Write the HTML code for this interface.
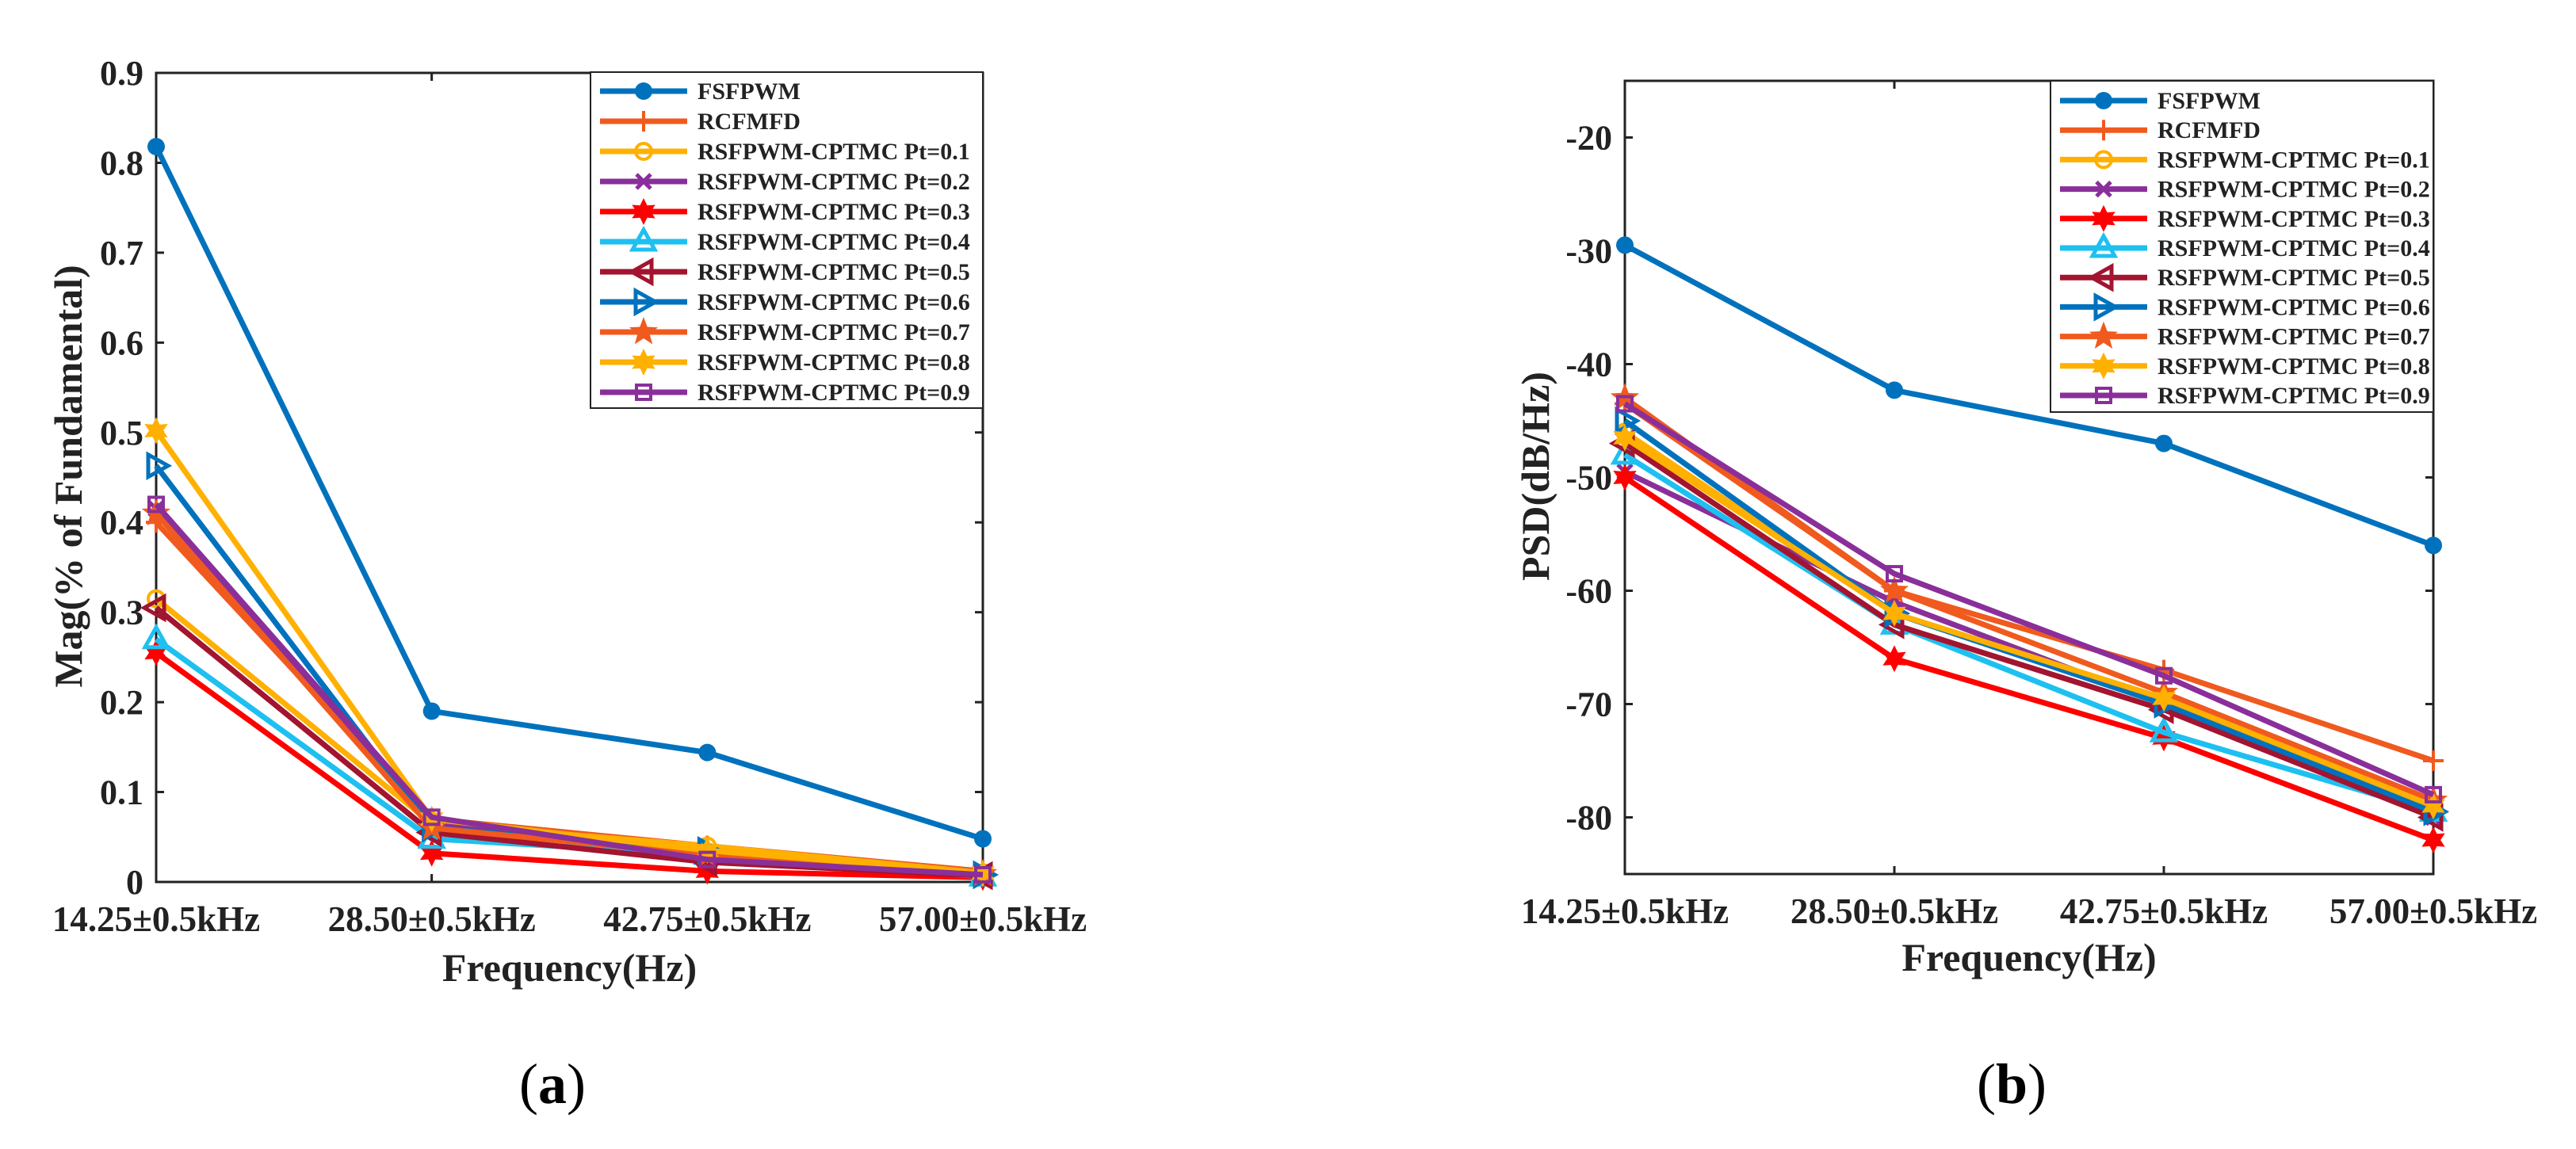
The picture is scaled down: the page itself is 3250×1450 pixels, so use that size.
<!DOCTYPE html>
<html><head><meta charset="utf-8">
<style>
html,body{margin:0;padding:0;background:#fff;}
svg{display:block;font-family:"Liberation Serif",serif;font-weight:bold;}
</style></head>
<body>
<svg id="fig" width="3250" height="1450" viewBox="0 0 3250 1450" xmlns="http://www.w3.org/2000/svg"></svg>
<script>
const categories = ["14.25±0.5kHz","28.50±0.5kHz","42.75±0.5kHz","57.00±0.5kHz"];
const seriesNames = ["FSFPWM","RCFMFD","RSFPWM-CPTMC Pt=0.1","RSFPWM-CPTMC Pt=0.2","RSFPWM-CPTMC Pt=0.3","RSFPWM-CPTMC Pt=0.4","RSFPWM-CPTMC Pt=0.5","RSFPWM-CPTMC Pt=0.6","RSFPWM-CPTMC Pt=0.7","RSFPWM-CPTMC Pt=0.8","RSFPWM-CPTMC Pt=0.9"];
const magFSFPWM = [0.818,0.19,0.144,0.048];
const magRCFMFD = [0.40,0.07,0.04,0.012];
const magPt01 = [0.315,0.065,0.04,0.01];
const magPt02 = [0.415,0.065,0.03,0.008];
const magPt03 = [0.255,0.032,0.012,0.005];
const magPt04 = [0.27,0.048,0.03,0.006];
const magPt05 = [0.305,0.055,0.022,0.007];
const magPt06 = [0.463,0.06,0.035,0.008];
const magPt07 = [0.41,0.06,0.03,0.009];
const magPt08 = [0.502,0.07,0.035,0.01];
const magPt09 = [0.42,0.072,0.025,0.008];
const psdFSFPWM = [-29.5,-42.3,-47,-56];
const psdRCFMFD = [-43.5,-60,-67,-75];
const psdPt01 = [-46,-62,-69.5,-79];
const psdPt02 = [-49.5,-61,-70,-80];
const psdPt03 = [-50,-66,-73,-82];
const psdPt04 = [-48,-63,-72.5,-79.5];
const psdPt05 = [-47,-63,-70.5,-80];
const psdPt06 = [-45,-62,-70,-79.5];
const psdPt07 = [-43,-60,-69,-78.5];
const psdPt08 = [-46.5,-62,-69.5,-79];
const psdPt09 = [-43.5,-58.5,-67.5,-78];
const magTicks = [0,0.1,0.2,0.3,0.4,0.5,0.6,0.7,0.8,0.9];
const psdTicks = [-80,-70,-60,-50,-40,-30,-20];

const colors = ["#0072BD","#F05A1E","#FFB000","#8A2F9A","#FF0000","#1EC0F0","#A2142F","#0072BD","#F05A1E","#FFB000","#8A2F9A"];
const markers = ["dot","plus","circle","x","hex","tri","left","right","pent","hex","square"];
const NS="http://www.w3.org/2000/svg";
const svg=document.getElementById('fig');
function mk(tag,attrs,parent){const e=document.createElementNS(NS,tag);for(const k in attrs)e.setAttribute(k,attrs[k]);(parent||svg).appendChild(e);return e;}
function star(cx,cy,n,ro,ri){let p=[];for(let i=0;i<2*n;i++){const r=i%2?ri:ro;const a=-Math.PI/2+i*Math.PI/n;p.push((cx+r*Math.cos(a)).toFixed(1)+","+(cy+r*Math.sin(a)).toFixed(1));}return p.join(" ");}
function marker(g,type,x,y,c){
  const s=13;
  let e;
  if(type==="dot") e=mk('circle',{cx:x,cy:y,r:11,fill:c},g);
  else if(type==="circle") e=mk('circle',{cx:x,cy:y,r:10,fill:"none",stroke:c,"stroke-width":4},g);
  else if(type==="plus") e=mk('path',{d:`M${x-s} ${y}H${x+s}M${x} ${y-s}V${y+s}`,stroke:c,"stroke-width":4},g);
  else if(type==="x") e=mk('path',{d:`M${x-9} ${y-9}L${x+9} ${y+9}M${x+9} ${y-9}L${x-9} ${y+9}`,stroke:c,"stroke-width":5},g);
  else if(type==="hex") e=mk('polygon',{points:star(x,y,6,17,9),fill:c},g);
  else if(type==="pent") e=mk('polygon',{points:star(x,y,5,19,8),fill:c},g);
  else if(type==="tri") e=mk('polygon',{points:`${x},${y-15} ${x+14},${y+10} ${x-14},${y+10}`,fill:"none",stroke:c,"stroke-width":5},g);
  else if(type==="left") e=mk('polygon',{points:`${x-15},${y} ${x+10},${y-14} ${x+10},${y+14}`,fill:"none",stroke:c,"stroke-width":5},g);
  else if(type==="right") e=mk('polygon',{points:`${x+15},${y} ${x-10},${y-14} ${x-10},${y+14}`,fill:"none",stroke:c,"stroke-width":5},g);
  else if(type==="square") e=mk('rect',{x:x-9,y:y-9,width:18,height:18,fill:"none",stroke:c,"stroke-width":4},g);
  
  
}
function text(g,x,y,str,size,anchor,extra){const t=mk('text',Object.assign({x:x,y:y,"font-size":size,"text-anchor":anchor||"start",fill:"#222"},extra||{}),g);t.textContent=str;return t;}

function panel(cfg){
  const g=mk('g',{});
  
  
  const L=cfg.left,R=cfg.right,T=cfg.top,B=cfg.bottom;
  const sx=i=>L+(R-L)*i/(categories.length-1);
  const sy=v=>B-(v-cfg.ymin)/(cfg.ymax-cfg.ymin)*(B-T);
  const frame=mk('rect',{x:L,y:T,width:R-L,height:B-T,fill:"none",stroke:"#222","stroke-width":3},g);
  
  
  cfg.ticks.forEach(v=>{
    const y=sy(v);
    mk('path',{d:`M${L} ${y}h10M${R} ${y}h-10`,stroke:"#222","stroke-width":3},g);
    const t=text(g,L-16,y+15,String(v),44,"end");
    
    
  });
  categories.forEach((c,i)=>{
    const x=sx(i);
    mk('path',{d:`M${x} ${B}v-10M${x} ${T}v10`,stroke:"#222","stroke-width":3},g);
    const t=text(g,x,cfg.xlabY,c,45,"middle");
    
    
  });
  cfg.data.forEach((arr,k)=>{
    const sg=mk('g',{},g);
    
    
    const pts=arr.map((v,i)=>sx(i)+","+sy(v)).join(" ");
    const pl=mk('polyline',{points:pts,fill:"none",stroke:colors[k],"stroke-width":7,"stroke-linejoin":"round"},sg);
    
    
    arr.forEach((v,i)=>marker(sg,markers[k],sx(i),sy(v),colors[k]));
  });
  // legend
  const lg=mk('g',{},g);
  
  
  const lb=mk('rect',{x:cfg.legX,y:cfg.legT,width:R-cfg.legX,height:cfg.legB-cfg.legT,fill:"#fff",stroke:"#222","stroke-width":2},lg);
  
  
  seriesNames.forEach((n,k)=>{
    const y=cfg.legT+cfg.legRow0+k*cfg.legStep;
    const eg=mk('g',{},lg);
    
    
    mk('line',{x1:cfg.legX+12,x2:cfg.legX+122,y1:y,y2:y,stroke:colors[k],"stroke-width":7},eg);
    marker(eg,markers[k],cfg.legX+67,y,colors[k]);
    text(eg,cfg.legX+135,y+10,n,30,"start");
  });
  const xl=text(g,(L+R)/2,cfg.xtitleY,"Frequency(Hz)",50,"middle");
  
  
  const yl=text(g,0,0,cfg.ytitle,50,"middle",{transform:`translate(${cfg.ytitleX},${cfg.ytitleY}) rotate(-90)`});
  
  
  const cap=text(g,cfg.capX,1392,cfg.cap,72,"middle",{"font-weight":"normal",fill:"#000"});
  
  
  const cb=cap; cb.innerHTML=""; cb.textContent="";
  const t1=mk('tspan',{"font-weight":"normal"},cb);t1.textContent="(";
  const t2=mk('tspan',{"font-weight":"bold"},cb);t2.textContent=cfg.cap;
  const t3=mk('tspan',{"font-weight":"normal"},cb);t3.textContent=")";
}
panel({name:"panel-a",left:197,right:1240,top:92,bottom:1113,ymin:0,ymax:0.9,ticks:magTicks,
  data:[magFSFPWM,magRCFMFD,magPt01,magPt02,magPt03,magPt04,magPt05,magPt06,magPt07,magPt08,magPt09],
  xlabY:1175,xtitleY:1238,ytitle:"Mag(% of Fundamental)",ytitleX:103,ytitleY:601,
  legX:745,legT:91,legB:515,legRow0:24,legStep:38,cap:"a",capX:697});
panel({name:"panel-b",left:2050,right:3070,top:102,bottom:1103,ymin:-85,ymax:-15,ticks:psdTicks,
  data:[psdFSFPWM,psdRCFMFD,psdPt01,psdPt02,psdPt03,psdPt04,psdPt05,psdPt06,psdPt07,psdPt08,psdPt09],
  xlabY:1165,xtitleY:1225,ytitle:"PSD(dB/Hz)",ytitleX:1954,ytitleY:601,
  legX:2587,legT:102,legB:520,legRow0:25,legStep:37.2,cap:"b",capX:2538});
</script>
</body></html>
